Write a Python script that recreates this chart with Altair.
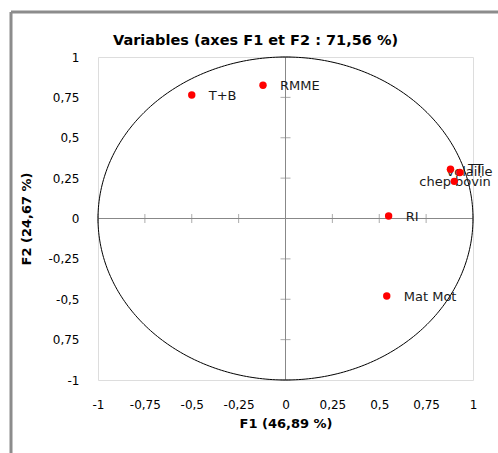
import altair as alt
import pandas as pd

# ---- data ----
names = ["T+B", "RMME", "volaille", "TT", "chep bovin", "RI", "Mat Mot"]
f1 = [-0.50, -0.12, 0.88, 0.93, 0.90, 0.55, 0.54]
f2 = [0.765, 0.825, 0.305, 0.285, 0.23, 0.015, -0.48]

tick_values = [-1, -0.75, -0.5, -0.25, 0, 0.25, 0.5, 0.75, 1]
x_tick_labels = ["-1", "-0,75", "-0,5", "-0,25", "0", "0,25", "0,5", "0,75", "1"]
y_tick_labels = ["-1", "0,75", "-0,5", "-0,25", "0", "0,25", "0,5", "0,75", "1"]
cross_ticks = [-1, -0.75, -0.5, -0.25, 0.25, 0.5, 0.75, 1]

title_text = "Variables (axes F1 et F2 : 71,56 %)"
x_title = "F1 (46,89 %)"
y_title = "F2 (24,67 %)"

pts = pd.DataFrame({"name": names, "F1": f1, "F2": f2})
ticks_df = pd.DataFrame({"t": cross_ticks, "zero": [0] * len(cross_ticks)})

FONT = "DejaVu Sans"


def label_expr(values, labels):
    v = "[" + ",".join(str(x) for x in values) + "]"
    l = "[" + ",".join("'" + s + "'" for s in labels) + "]"
    return f"{l}[indexof({v}, datum.value)]"


xscale = alt.Scale(domain=[-1, 1], nice=False, zero=False)
yscale = alt.Scale(domain=[-1, 1], nice=False, zero=False)

common_axis = dict(grid=False, domain=False, ticks=False,
                   labelFont=FONT, labelFontSize=12, labelColor="black",
                   titleFont=FONT, titleFontSize=13, titleFontWeight="bold", titleColor="black",
                   labelFlush=False, labelOverlap=False)

xaxis = alt.Axis(values=tick_values, labelExpr=label_expr(tick_values, x_tick_labels),
                 title=x_title, labelPadding=19, titlePadding=7, **common_axis)
yaxis = alt.Axis(values=tick_values, labelExpr=label_expr(tick_values, y_tick_labels),
                 title=y_title, labelPadding=19, titlePadding=14, **common_axis)

# correlation circle (unit circle)
circle = alt.Chart(alt.sequence(0, 361, 1, as_="deg")).transform_calculate(
    cx="cos(datum.deg * PI / 180)", cy="sin(datum.deg * PI / 180)"
).mark_line(color="black", strokeWidth=1).encode(
    x=alt.X("cx:Q", scale=xscale, axis=xaxis),
    y=alt.Y("cy:Q", scale=yscale, axis=yaxis),
    order="deg:Q",
)

# center cross lines
vline = alt.Chart(pd.DataFrame({"v": [0]})).mark_rule(color="#888888", strokeWidth=1).encode(
    x=alt.X("v:Q", scale=xscale))
hline = alt.Chart(pd.DataFrame({"v": [0]})).mark_rule(color="#888888", strokeWidth=1).encode(
    y=alt.Y("v:Q", scale=yscale))

xticks = alt.Chart(ticks_df).mark_tick(color="#888888", orient="vertical", size=9, thickness=1).encode(
    x=alt.X("t:Q", scale=xscale), y=alt.Y("zero:Q", scale=yscale))
yticks = alt.Chart(ticks_df).mark_tick(color="#888888", orient="horizontal", size=10, thickness=1).encode(
    y=alt.Y("t:Q", scale=yscale), x=alt.X("zero:Q", scale=xscale))


def labels(sel, dx, dy):
    return alt.Chart(pts).transform_filter(
        alt.FieldOneOfPredicate(field="name", oneOf=sel)
    ).mark_text(align="left", baseline="middle", font=FONT, fontSize=13, color="#1a1a1a",
                dx=dx, dy=dy).encode(
        x=alt.X("F1:Q", scale=xscale), y=alt.Y("F2:Q", scale=yscale), text="name:N")


lab_main = labels(["T+B", "RMME", "RI", "Mat Mot"], 17, 1)
lab_vol = labels(["volaille"], -4, 3)
lab_tt = labels(["TT"], 8, -3)
lab_chep = labels(["chep bovin"], -35, 1)

points = alt.Chart(pts).mark_circle(color="#ff0000", opacity=1, size=55).encode(
    x=alt.X("F1:Q", scale=xscale), y=alt.Y("F2:Q", scale=yscale))

# outer chart frame (decorative)
frame_left = alt.Chart(pd.DataFrame({"v": [0]})).mark_rule(color="#8c8c8c", strokeWidth=3).encode(
    x=alt.value(-87), y=alt.value(-45), y2=alt.value(400))
frame_top = alt.Chart(pd.DataFrame({"v": [0]})).mark_rule(color="#8c8c8c", strokeWidth=3).encode(
    y=alt.value(-45), x=alt.value(-87), x2=alt.value(410))

chart = alt.layer(
    frame_left, frame_top, vline, hline, xticks, yticks, circle,
    lab_main, lab_vol, lab_tt, lab_chep, points
).properties(
    width=375, height=323,
    title=alt.TitleParams(title_text, font=FONT, fontSize=14.5, fontWeight="bold",
                          color="black", dx=-30, offset=-38, frame="group"),
    autosize=alt.AutoSizeParams(type="none"),
    padding={"left": 98, "top": 57, "right": 25, "bottom": 73},
).configure_view(
    stroke="#8c8c8c", strokeWidth=1
).configure(background="white")

chart.save("out.html", embed_options={"renderer": "svg", "actions": False})
